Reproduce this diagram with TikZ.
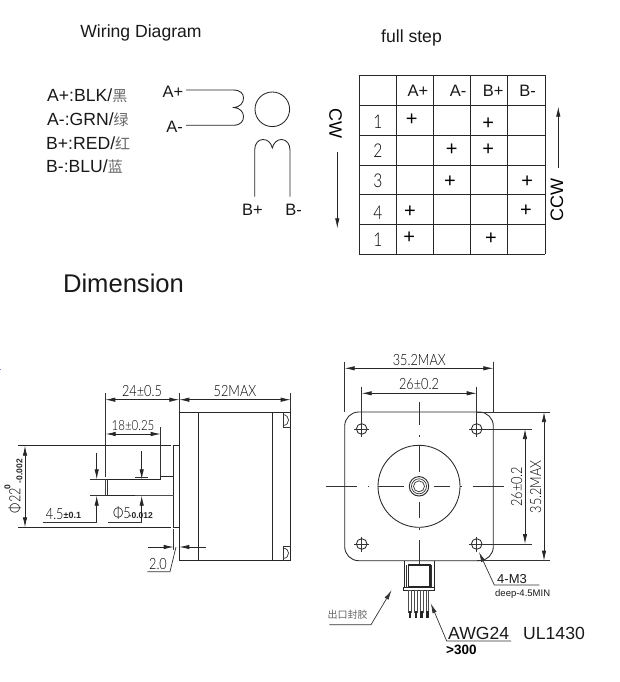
\documentclass[tikz,border=0pt]{standalone}
\usepackage{fontspec}
\setmainfont{Liberation Sans}
\newfontfamily\cadfont[FakeStretch=0.82,UprightFont=* Light,BoldFont=* Regular]{Lato}
\newfontfamily\cjkfont{Noto Sans CJK SC}
\usetikzlibrary{arrows.meta}
\newcommand{\fsz}[1]{\fontsize{#1}{#1}\selectfont}
\tikzset{
  ln/.style={line width=0.85pt,black!85},
  thinln/.style={line width=0.7pt,black!80},
  dim/.style={line width=0.75pt,black!85,arrows={Latex[length=10pt,width=4.4pt]-Latex[length=10pt,width=4.4pt]}},
  dimend/.style={line width=0.75pt,black!85,arrows={-Latex[length=10pt,width=4.4pt]}},
  lab/.style={inner sep=0pt,font=\fsz{17.6},black!90},
  head/.style={inner sep=0pt,font=\fsz{16.5},black!90},
  headb/.style={inner sep=0pt,font=\fsz{18},black},
  cad/.style={inner sep=0pt,font=\cadfont\fsz{15.5},black},
  rownum/.style={inner sep=0pt,font=\cadfont\fsz{19},black},
  cads/.style={inner sep=0pt,font=\bfseries\fsz{8.5},black!85},
  plusm/.style={inner sep=0pt,font=\rmfamily\fsz{20}},
  cjk/.style={inner sep=0pt,black!60}
}
\begin{document}
\begin{tikzpicture}[x=1pt,y=-1pt]
\useasboundingbox (0,0) rectangle (620,682);
\fill[white] (0,0) rectangle (620,682);
% titles
\node[lab,anchor=center] (t1) at (141,33) {Wiring Diagram};
\node[lab,anchor=center] (t2) at (411.5,38) {full step};
\node[inner sep=0pt,font=\fsz{25.6},black!90] (t3) at (123.5,283) {Dimension};
% colour legend
\node[lab,anchor=west] (l1) at (47,96) {A+:BLK/\textcolor{black!60}{\cjkfont\fsz{15}黑}};
\node[lab,anchor=west] (l2) at (47,120) {A-:GRN/\textcolor{black!60}{\cjkfont\fsz{15}绿}};
\node[lab,anchor=west] (l3) at (46,143.5) {B+:RED/\textcolor{black!60}{\cjkfont\fsz{15}红}};
\node[lab,anchor=west] (l4) at (46,167) {B-:BLU/\textcolor{black!60}{\cjkfont\fsz{15}蓝}};
% coils
\node[head,anchor=center] (ap) at (173,92) {A+};
\node[head,anchor=center] (am) at (174.5,127) {A-};
\node[head,anchor=center] (bp) at (252.5,210) {B+};
\node[head,anchor=center] (bm) at (293.5,210) {B-};
\draw[ln] (186,90) -- (233,90) .. controls (241,90) and (243.5,94) .. (243.5,98) .. controls (243.5,103) and (240,107) .. (234,107.5) .. controls (240,108) and (243.5,112) .. (243.5,116.5) .. controls (243.5,121) and (241,125.3) .. (233,125.3) -- (186,125.3);
\draw[ln] (272.3,109.3) circle (17.3);
\draw[ln] (254.7,196.7) -- (254.7,150) .. controls (254.7,144) and (258,139.5) .. (263,139.5) .. controls (268,139.5) and (271,143) .. (272.3,148) .. controls (273.5,143) and (277,139.5) .. (281.5,139.5) .. controls (286.5,139.5) and (290,144) .. (290,150) -- (290,196.7);
% table
\foreach \xx in {359.3,396.3,433.3,470.7,507.7,545} \draw[ln] (\xx,75.3) -- (\xx,254.3);
\foreach \yy in {75.3,105,135.3,165.3,194.7,224.3,254.3} \draw[ln] (359.3,\yy) -- (545,\yy);
\node[head] (h1) at (418,91) {A+};
\node[head] (h2) at (458,91) {A-};
\node[head] (h3) at (493.3,91) {B+};
\node[head] (h4) at (527.7,91) {B-};
\node[rownum] (r1) at (378,121.7) {1};
\node[rownum] (r2) at (378,150.7) {2};
\node[rownum] (r3) at (378,180.7) {3};
\node[rownum] (r4) at (378,212.7) {4};
\node[rownum] (r5) at (378,240) {1};
\node[plusm] (p1) at (411.7,120) {+};
\node[plusm] (p2) at (488.3,123.3) {+};
\node[plusm] (p3) at (451.7,150) {+};
\node[plusm] (p4) at (488.3,150) {+};
\node[plusm] (p5) at (450,181.7) {+};
\node[plusm] (p6) at (527.3,181.7) {+};
\node[plusm] (p7) at (410,211.7) {+};
\node[plusm] (p8) at (526,210.7) {+};
\node[plusm] (p9) at (409.3,237.3) {+};
\node[plusm] (p10) at (491,239) {+};
\node[headb,rotate=-90] (cw) at (335.5,123) {CW};
\node[headb,rotate=90] (ccw) at (557,200) {CCW};
\coordinate (cwa) at (337.3,151.7); \coordinate (cwb) at (337.3,228.3);
\coordinate (cca) at (558.3,167.7); \coordinate (ccb) at (558.3,106.7);
\draw[dimend] (cwa) -- (cwb);
\draw[dimend] (cca) -- (ccb);
% side view
\draw[ln] (179.3,412) rectangle (290.7,560.7);
\draw[ln] (198.3,412) -- (198.3,560.7);
\draw[ln] (272.3,412) -- (272.3,560.7);
\draw[ln] (173.7,445.7) rectangle (179.3,527.3);
\draw[ln] (105.7,479.3) -- (160.7,479.3) -- (160.7,476.7) -- (173.7,476.7);
\draw[ln] (105.7,495.7) -- (173.7,495.7);
\draw[line width=1.3pt,black!75] (105.7,479.3) -- (105.7,495.7);
\draw[line width=1.2pt,black!70] (135,495.7) -- (173.7,495.7);
\draw[thinln] (107.8,479.3) -- (107.8,495.7);
\draw[thinln] (283.3,412) -- (283.3,427.3) -- (290.7,427.3);
\draw[thinln] (283.3,414.5) .. controls (287,415) and (288.5,418) .. (288.5,420) .. controls (288.5,423) and (287,425) .. (283.3,425.5);
\draw[thinln] (283.3,560.7) -- (283.3,546) -- (290.7,546);
\draw[thinln] (283.3,548) .. controls (287,548.5) and (288.5,551) .. (288.5,553) .. controls (288.5,556) and (287,558) .. (283.3,558.5);
% side dimensions
\draw[thinln] (105.3,393.3) -- (105.3,476.7);
\draw[thinln] (179.3,393.3) -- (179.3,412);
\draw[thinln] (290.7,393.3) -- (290.7,412);
\draw[dim] (105.3,399.7) -- (179.3,399.7);
\draw[dim] (179.3,399.7) -- (290.7,399.7);
\draw[thinln] (160.7,427) -- (160.7,476.7);
\draw[dim] (105.7,434) -- (160.7,434);
\draw[ln] (18.3,445.7) -- (170.7,445.7);
\draw[ln] (18.3,527.3) -- (170.7,527.3);
\draw[dim] (25,445.7) -- (25,527.3);
\draw[thinln] (90,479.3) -- (105.7,479.3);
\draw[thinln] (90,495.7) -- (105.7,495.7);
\draw[dimend] (96.7,453.3) -- (96.7,479.3);
\draw[dimend] (96.7,522.3) -- (96.7,495.7);
\draw[thinln] (42.7,522.3) -- (96.7,522.3);
\draw[dimend] (141.7,451) -- (141.7,479.3);
\draw[dimend] (141.7,522.3) -- (141.7,495.7);
\draw[thinln] (108.3,522.3) -- (141.7,522.3);
\draw[thinln] (135,477) -- (147.5,477);
\draw[thinln] (173.7,529) -- (173.7,550);
\draw[dimend] (147.7,547) -- (173.7,547);
\draw[dimend] (205.7,547) -- (179.3,547);
\draw[thinln] (176,547) -- (170,571.7) -- (147.3,571.7);
\node[cad] (d1) at (142,391) {24±0.5};
\node[cad] (d2) at (235,391) {52MAX};
\node[cad,font=\cadfont\fsz{14}] (d3) at (133,426) {18±0.25};
\node[cad,rotate=90] (d4) at (15,500.5) {Φ22};
\node[cads,rotate=90] (d5) at (7.5,487.5) {0};
\node[cads,rotate=90] (d6) at (19.5,471) {-0.002};
\node[cad,anchor=west] (d7) at (45.7,514) {4.5};
\node[cads,anchor=west,font=\bfseries\fsz{9}] (d8) at (63.5,515.5) {±0.1};
\node[cad,anchor=west] (d9) at (113,513) {Φ5};
\node[cads,anchor=west] (d10) at (128.5,515.5) {-0.012};
\node[cad] (d11) at (158,564) {2.0};
% front view
\draw[ln,rounded corners=14pt] (344.7,412) rectangle (493.3,560.7);
\draw[ln] (419,486.3) circle (41);
\draw[line width=1pt,black!80] (419,486.3) circle (9.7);
\draw[thinln] (419,486.3) circle (7.5);
\draw[thinln] (419,486.3) circle (5.5);
\foreach \hx/\hy in {361.7/429,476.7/429,361.7/544,476.7/544}{
  \draw[ln] (\hx,\hy) circle (5.3);
  \draw[thinln] (\hx-7.5,\hy) -- (\hx+7.5,\hy);
  \draw[thinln] (\hx,\hy-7.5) -- (\hx,\hy+7.5);
}
\draw[thinln] (326,486.3) -- (357.3,486.3) (367.6,486.3) -- (369,486.3) (378,486.3) -- (404,486.3) (434,486.3) -- (450,486.3) (460.3,486.3) -- (461.7,486.3) (472.7,486.3) -- (504,486.3);
\draw[thinln] (419,402.3) -- (419,425) (419,435.3) -- (419,436.7) (419,445.7) -- (419,471.7) (419,501.7) -- (419,518.3) (419,528.3) -- (419,529.7) (419,540) -- (419,565);
% front dimensions
\draw[thinln] (344.7,361.7) -- (344.7,412);
\draw[thinln] (493.3,361.7) -- (493.3,412);
\draw[dim] (344.7,368.3) -- (493.3,368.3);
\draw[thinln] (361.7,386.7) -- (361.7,429);
\draw[thinln] (476.7,386.7) -- (476.7,429);
\draw[dim] (361.7,393.3) -- (476.7,393.3);
\draw[thinln] (476.7,412) -- (550.3,412);
\draw[thinln] (476.7,560.7) -- (550.3,560.7);
\draw[dim] (544,412) -- (544,560.7);
\draw[thinln] (476.7,429) -- (531.7,429);
\draw[thinln] (476.7,544) -- (531.7,544);
\draw[dim] (525,429) -- (525,544);
\node[cad] (f1) at (419.3,360) {35.2MAX};
\node[cad] (f2) at (419,384.3) {26±0.2};
\node[cad,rotate=90] (f3) at (516.7,486.7) {26±0.2};
\node[cad,rotate=90] (f4) at (535.7,486.7) {35.2MAX};
% connector
\draw[ln] (404,560.7) -- (404,587.3);
\draw[ln] (434,560.7) -- (434,587.3);
\draw[thinln] (406.7,565) -- (406.7,587.3);
\draw[thinln] (431.5,565) -- (431.5,587.3);
\draw[line width=1.1pt,black!85] (408.3,565) rectangle (430,586.7);
\draw[ln] (403,587.3) rectangle (434.8,590);
\foreach \px in {410,416,421.7,427.3}{
  \draw[line width=0.6pt,black!70] (\px-1.3,590) rectangle (\px+1.3,612);
  \fill[black!85] (\px-1.3,611) rectangle (\px+1.3,617.5);
}
% leaders
\node[cjk,font=\cjkfont\fsz{10}] (c1) at (347.5,615) {出口封胶};
\coordinate (c2) at (329.3,624.7); \coordinate (c3) at (371,624.7); \coordinate (c4) at (391.7,590);
\draw[thinln,-{Latex[length=10pt,width=4.4pt]}] (c2) -- (c3) -- (c4);
\node[inner sep=0pt,font=\fsz{17.6},black!90,anchor=west] (a1) at (448,633) {AWG24};
\node[inner sep=0pt,font=\fsz{17.6},black!90,anchor=west] (a2) at (523,633) {UL1430};
\node[inner sep=0pt,font=\bfseries\fsz{13.5},black,anchor=west] (a3) at (446,650) {>300};
\coordinate (a4) at (511,641); \coordinate (a5) at (446.7,641); \coordinate (a6) at (430.7,603.3);
\draw[thinln,-{Latex[length=10pt,width=4.4pt]}] (a4) -- (a5) -- (a6);
\node[inner sep=0pt,font=\fsz{13},black!90,anchor=west] (m1) at (497,579) {4-M3};
\node[inner sep=0pt,font=\fsz{9.5},black!90,anchor=west] (m2) at (495,594) {deep-4.5MIN};
\coordinate (m3) at (539.3,585); \coordinate (m4) at (494.3,585); \coordinate (m5) at (479,552);
\draw[thinln,-{Latex[length=10pt,width=4.4pt]}] (m3) -- (m4) -- (m5);
% stray mark
\fill[blue!50] (0,368.5) rectangle (1.2,369.8);
\end{tikzpicture}
\end{document}
